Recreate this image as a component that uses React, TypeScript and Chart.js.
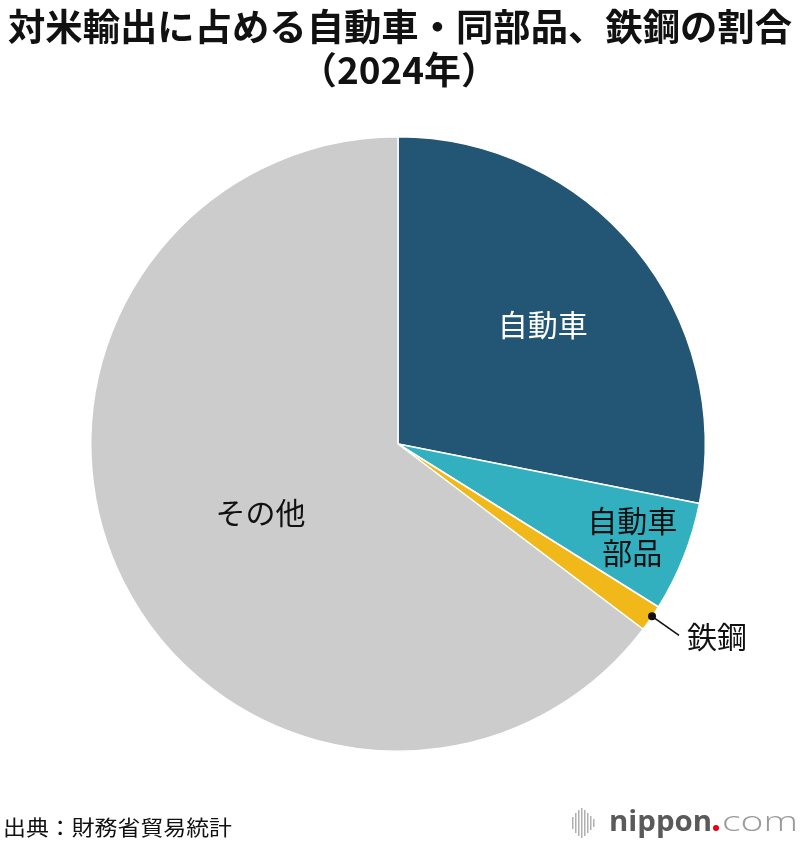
import React, { useEffect, useRef } from "react";
import { Chart, registerables } from "chart.js";

Chart.register(...registerables);

const categories = ["自動車", "自動車部品", "鉄鋼", "その他"];
const shares = [28.1, 5.8, 1.4, 64.7];
const colors = ["#235574", "#33b0c0", "#f0b818", "#cccccc"];
const titleLines = ["対米輸出に占める自動車・同部品、鉄鋼の割合", "（2024年）"];
const sourceText = "出典：財務省貿易統計";

const JP = '"Noto Sans CJK JP", "Noto Sans", sans-serif';

function fitText(ctx: CanvasRenderingContext2D, text: string, x: number, y: number, w: number) {
  const m = ctx.measureText(text).width;
  ctx.save();
  ctx.textAlign = "left";
  ctx.translate(x, y);
  ctx.scale(w / m, 1);
  ctx.fillText(text, 0, 0);
  ctx.restore();
}

const overlay = {
  id: "overlay",
  afterDraw(chart: any) {
    const ctx: CanvasRenderingContext2D = chart.ctx;
    const meta = chart.getDatasetMeta(0);
    ctx.save();
    // Title
    ctx.fillStyle = "#111111";
    ctx.textBaseline = "middle";
    ctx.font = `bold 37px ${JP}`;
    fitText(ctx, titleLines[0], 8, 27, 784);
    fitText(ctx, titleLines[1], 300, 70, 198);

    const place = (i: number, frac: number) => {
      const a = meta.data[i];
      const mid = (a.startAngle + a.endAngle) / 2;
      const r = a.outerRadius * frac;
      return { x: a.x + Math.cos(mid) * r, y: a.y + Math.sin(mid) * r, mid, a };
    };

    ctx.font = `400 30px ${JP}`;
    ctx.textAlign = "center";
    ctx.textBaseline = "middle";
    let p = place(0, 0.61);
    ctx.fillStyle = "#ffffff";
    ctx.fillText(categories[0], p.x, p.y);

    p = place(1, 0.82);
    ctx.fillStyle = "#111111";
    ctx.fillText("自動車", p.x, p.y - 16);
    ctx.fillText("部品", p.x, p.y + 16);

    p = place(3, 0.5);
    ctx.fillText(categories[3], p.x, p.y);

    // Steel leader
    p = place(2, 1.0);
    const dx = p.x + 1, dy = p.y - 2;
    ctx.beginPath();
    ctx.arc(dx, dy, 4, 0, Math.PI * 2);
    ctx.fill();
    ctx.beginPath();
    ctx.strokeStyle = "#111111";
    ctx.lineWidth = 1.6;
    ctx.moveTo(dx, dy);
    ctx.lineTo(dx + 27, dy + 19);
    ctx.stroke();
    ctx.textAlign = "left";
    ctx.fillText(categories[2], dx + 35, dy + 20);

    // Source
    ctx.font = `21px ${JP}`;
    ctx.fillStyle = "#111111";
    fitText(ctx, sourceText, 3, 827, 229);

    // Logo
    const bars = [
      [572, 12], [575, 20], [578, 26], [581, 30], [584, 26], [587, 20], [590, 14], [593, 8],
    ];
    ctx.fillStyle = "#b0b0b0";
    bars.forEach(([x, h]) => {
      ctx.fillRect(x, 823 - h / 2, 1.5, h);
    });
    ctx.textBaseline = "alphabetic";
    ctx.font = `bold 28px "Open Sans", "Noto Sans", sans-serif`;
    ctx.fillStyle = "#5a5a5a";
    fitText(ctx, "nippon", 609, 831, 103);
    ctx.fillStyle = "#e60012";
    ctx.beginPath();
    ctx.arc(716, 828, 3, 0, Math.PI * 2);
    ctx.fill();
    ctx.font = `300 28px "Open Sans", "Noto Sans", sans-serif`;
    ctx.fillStyle = "#9a9a9a";
    fitText(ctx, "com", 722, 831, 76);
    ctx.restore();
  },
};

export default function App() {
  const ref = useRef<HTMLCanvasElement>(null);
  useEffect(() => {
    if (!ref.current) return;
    const chart = new Chart(ref.current, {
      type: "pie",
      data: {
        labels: categories,
        datasets: [
          {
            data: shares,
            backgroundColor: colors,
            borderColor: "#ffffff",
            borderWidth: 1.5,
          },
        ],
      },
      options: {
        responsive: false,
        animation: false,
        layout: { padding: { left: 90, right: 94, top: 136, bottom: 94 } },
        plugins: { legend: { display: false }, tooltip: { enabled: false }, title: { display: false } },
      },
      plugins: [overlay],
    });
    return () => chart.destroy();
  }, []);
  return (
    <div style={{ position: "absolute", left: 0, top: 0, width: 800, height: 846, background: "#fff" }}>
      <canvas ref={ref} width={800} height={846} style={{ width: 800, height: 846 }} />
    </div>
  );
}
